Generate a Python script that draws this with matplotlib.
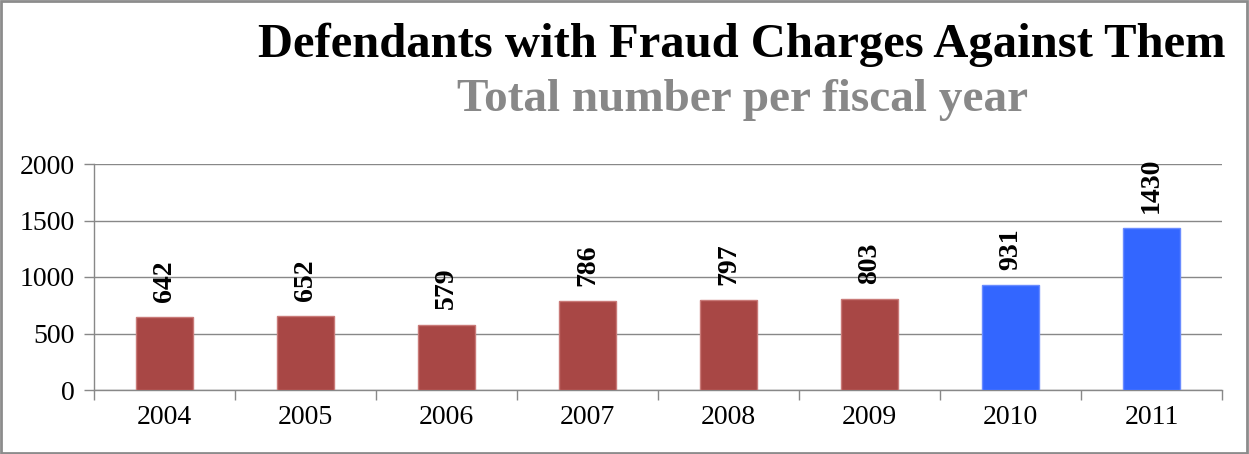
import matplotlib.pyplot as plt
from matplotlib.patches import Rectangle

# Data
years = ["2004", "2005", "2006", "2007", "2008", "2009", "2010", "2011"]
defendants = [642, 652, 579, 786, 797, 803, 931, 1430]
bar_colors = ["#A84745"] * 6 + ["#3366FF"] * 2
edge_colors = ["#C97A78"] * 6 + ["#6A8CFF"] * 2

plt.rcParams["font.family"] = ["Liberation Serif", "DejaVu Serif"]

fig = plt.figure(figsize=(12.49, 4.54), dpi=100)
ax = fig.add_axes([94 / 1249, 1 - 390 / 454, (1222 - 94) / 1249, (390 - 164) / 454])

x = range(len(years))
ax.bar(x, defendants, width=0.4, color=bar_colors, edgecolor=edge_colors, linewidth=1, zorder=3)

for xi, v in zip(x, defendants):
    ax.annotate(str(v), (xi, v), xytext=(0, 11), textcoords="offset points",
                rotation=90, ha="center", va="bottom", fontsize=20, fontweight="bold")

ax.set_xlim(-0.5, len(years) - 0.5)
ax.set_ylim(0, 2000)
ax.set_yticks([0, 500, 1000, 1500, 2000])
ax.set_xticks(list(x))
ax.set_xticklabels(years)
ax.set_xticks([i + 0.5 for i in range(-1, len(years))], minor=True)
ax.tick_params(axis="x", which="major", length=0, labelsize=20, pad=11)
ax.tick_params(axis="x", which="minor", length=7, color="#888888", width=1)
ax.tick_params(axis="y", length=7, color="#888888", width=1, labelsize=20, pad=7)
ax.yaxis.grid(True, color="#888888", linewidth=1, zorder=0)

for side in ["top", "right"]:
    ax.spines[side].set_visible(False)
for side in ["left", "bottom"]:
    ax.spines[side].set_color("#888888")
    ax.spines[side].set_linewidth(1)

fig.text(742 / 1249, 1 - 45 / 454, "Defendants with Fraud Charges Against Them",
         ha="center", va="center", fontsize=35, fontweight="bold", color="black")
fig.text(743 / 1249, 1 - 100 / 454, "Total number per fiscal year",
         ha="center", va="center", fontsize=34, fontweight="bold", color="#888888")

# Rahmen um die Grafik
fig.patches.append(Rectangle((0.001, 0.003), 0.997, 0.994, transform=fig.transFigure,
                             fill=False, edgecolor="#8C8C8C", linewidth=2))

plt.savefig("out.png", dpi=100)
plt.close()
